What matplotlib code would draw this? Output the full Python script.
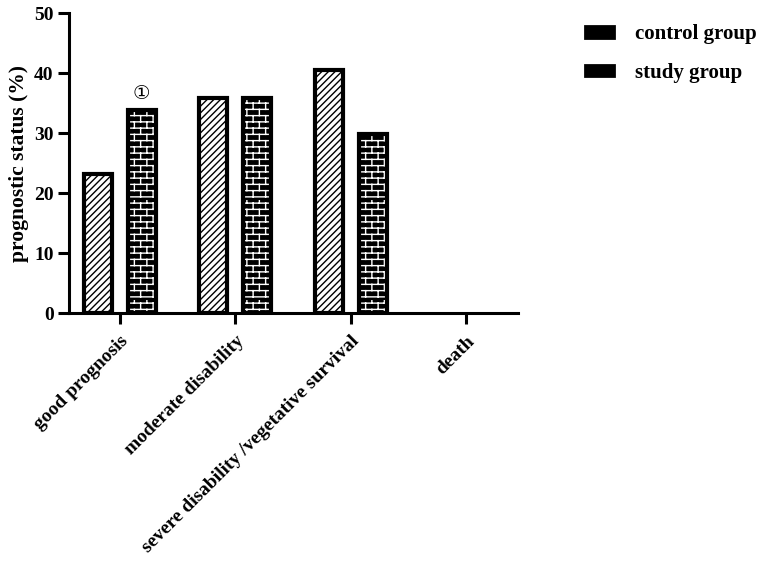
import numpy as np
import matplotlib
matplotlib.use('Agg')
import matplotlib.pyplot as plt
import matplotlib.hatch as mhatch
import matplotlib.patches as mpatches
from matplotlib.path import Path

categories = ['good prognosis', 'moderate disability',
              'severe disability /vegetative survival', 'death']
control_vals = [23.1, 35.9, 40.5, 0.0]
study_vals = [33.9, 35.9, 29.9, 0.0]
series_labels = ['control group', 'study group']
y_ticks = [0, 10, 20, 30, 40, 50]

FONT = 'Liberation Serif'


class BrickHatch(mhatch.HatchPatternBase):
    """brick pattern, triggered by 'O' (replaces the large circles)"""
    def __init__(self, hatch, density):
        n = hatch.count('O')
        self.rows = 16 * n
        self.cols = 8 * n
        self.num_vertices = self.rows * 2 + self.rows * self.cols * 2

    def set_vertices_and_codes(self, vertices, codes):
        r, c = self.rows, self.cols
        ys = (np.arange(r) + 0.5) / r
        vertices[0:2 * r:2] = np.column_stack([np.zeros(r), ys])
        vertices[1:2 * r:2] = np.column_stack([np.ones(r), ys])
        i = 2 * r
        for k in range(r):
            shift = 0.25 + 0.5 * (k % 2)
            for j in range(c):
                xx = (j + shift) / c
                vertices[i] = (xx, ys[k])
                vertices[i + 1] = (xx, ys[k] + 1.0 / r)
                i += 2
        codes[0::2] = Path.MOVETO
        codes[1::2] = Path.LINETO


mhatch._hatch_types[mhatch._hatch_types.index(mhatch.LargeCircles)] = BrickHatch

plt.rcParams['font.family'] = [FONT, 'DejaVu Sans']
plt.rcParams['font.weight'] = 'bold'
plt.rcParams['axes.labelweight'] = 'bold'
plt.rcParams['hatch.linewidth'] = 1.0

fig = plt.figure(figsize=(7.65, 5.74), dpi=100)
ax = fig.add_axes([0.0902, 0.4547, 0.587, 0.5226])

x = np.arange(len(categories))
w = 0.243
off = 0.19

# empty bars (value 0) get no outline, like the original
ctrl_lw = [3 if v > 0 else 0 for v in control_vals]
study_lw = [3 if v > 0 else 0 for v in study_vals]

ax.bar(x - off, control_vals, w, facecolor='white', edgecolor='black',
       linewidth=ctrl_lw, hatch='/////', zorder=3)
# study bars: black with white bricks, then a black outline on top
ax.bar(x + off, study_vals, w, facecolor='black', edgecolor='white',
       linewidth=0, hatch='O', zorder=3)
ax.bar(x + off, study_vals, w, fill=False, edgecolor='black',
       linewidth=study_lw, zorder=4)

ax.annotate('\u2460', (x[0] + off, study_vals[0]), xytext=(0, 5),
            textcoords='offset points', ha='center', va='bottom',
            fontsize=14, fontweight='normal', family=['DejaVu Sans'])

ax.set_xlim(-0.44, 3.45)
ax.set_ylim(0, 50)
ax.set_yticks(y_ticks)
ax.set_xticks(x)
ax.set_xticklabels(categories, rotation=45, ha='right', va='top',
                   rotation_mode='anchor')
ax.tick_params(axis='both', width=2.2, length=8, labelsize=14, pad=3)
ax.tick_params(axis='x', pad=6)

for sp in ['top', 'right']:
    ax.spines[sp].set_visible(False)
for sp in ['bottom', 'left']:
    ax.spines[sp].set_linewidth(2.2)

ax.set_ylabel('prognostic status (%)', fontsize=15.5, labelpad=4)

handles = [mpatches.Patch(facecolor='black', edgecolor='black', linewidth=2,
                          hatch='/////', label=series_labels[0]),
           mpatches.Patch(facecolor='black', edgecolor='black', linewidth=2,
                          label=series_labels[1])]
fig.legend(handles=handles, loc='upper left', bbox_to_anchor=(0.74, 0.99),
           frameon=False, fontsize=15, handlelength=1.4, handleheight=0.45,
           labelspacing=0.9, handletextpad=1.0)

fig.savefig('out.png', dpi=100)
